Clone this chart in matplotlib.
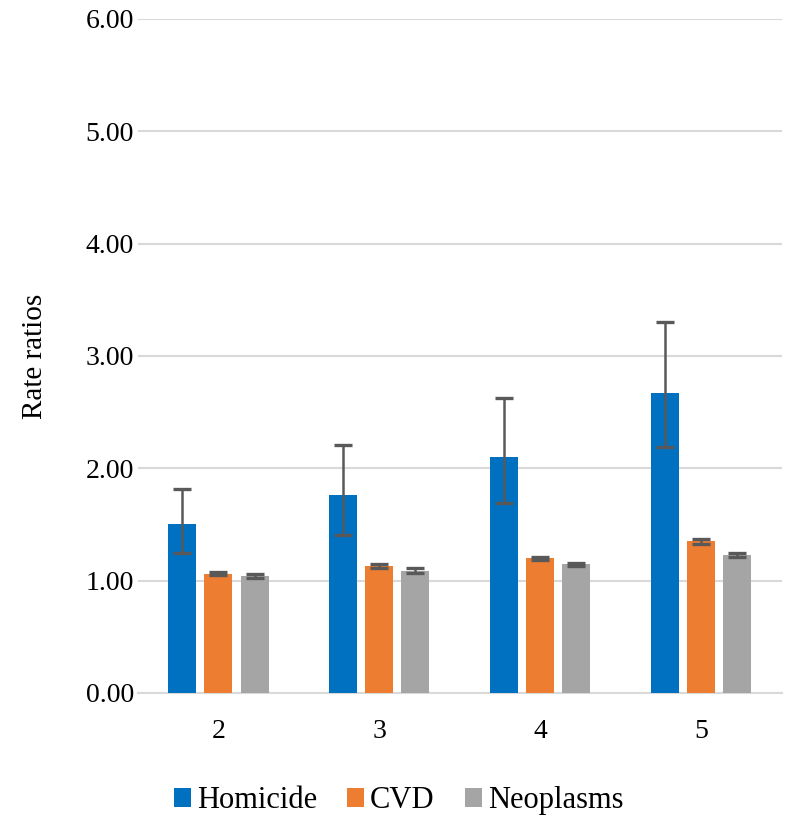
import numpy as np
import matplotlib.pyplot as plt

plt.rcParams['font.family'] = ['Liberation Serif', 'DejaVu Serif']

categories = ["2", "3", "4", "5"]
series = ["Homicide", "CVD", "Neoplasms"]
colors = ["#0070C0", "#ED7D31", "#A5A5A5"]

values = {
    "Homicide": [1.50, 1.76, 2.10, 2.67],
    "CVD": [1.06, 1.13, 1.20, 1.35],
    "Neoplasms": [1.04, 1.09, 1.15, 1.23],
}
lower = {
    "Homicide": [1.25, 1.41, 1.69, 2.19],
    "CVD": [1.05, 1.11, 1.18, 1.33],
    "Neoplasms": [1.02, 1.07, 1.13, 1.21],
}
upper = {
    "Homicide": [1.82, 2.21, 2.63, 3.30],
    "CVD": [1.08, 1.15, 1.21, 1.37],
    "Neoplasms": [1.06, 1.11, 1.16, 1.25],
}

fig = plt.figure(figsize=(7.86, 8.17), dpi=100)
ax = fig.add_axes([0.1756, 0.1518, 0.819, 0.825])

x = np.arange(len(categories))
width = 0.174
step = 0.224
for i, s in enumerate(series):
    v = np.array(values[s])
    err = [v - np.array(lower[s]), np.array(upper[s]) - v]
    ax.bar(x + (i - 1) * step, v, width, color=colors[i], label=s, zorder=3,
           yerr=err, capsize=6.5,
           error_kw=dict(ecolor="#595959", elinewidth=1.8, capthick=2.4, zorder=4))

ax.set_ylim(0, 6)
ax.set_xlim(-0.5, len(categories) - 0.5)
ax.set_yticks(np.arange(0, 6.01, 1))
ax.set_yticklabels([f"{t:.2f}" for t in np.arange(0, 6.01, 1)])
ax.set_xticks(x)
ax.set_xticklabels(categories)
ax.tick_params(axis="y", length=0, labelsize=20, pad=3)
ax.tick_params(axis="x", length=0, labelsize=20, pad=19)
ax.grid(axis="y", color="#D9D9D9", linewidth=1.5, zorder=0)
for sp in ["top", "right", "left"]:
    ax.spines[sp].set_visible(False)
ax.spines["bottom"].set_color("#D9D9D9")
ax.spines["bottom"].set_linewidth(1.5)
ax.set_ylabel("Rate ratios", fontsize=21, labelpad=27)

ax.legend(loc="center", bbox_to_anchor=(0.405, -0.16), ncol=3, frameon=False,
          fontsize=22, handlelength=0.55, handleheight=0.55, handletextpad=0.2,
          columnspacing=0.98)

fig.savefig("out.png", dpi=100)
